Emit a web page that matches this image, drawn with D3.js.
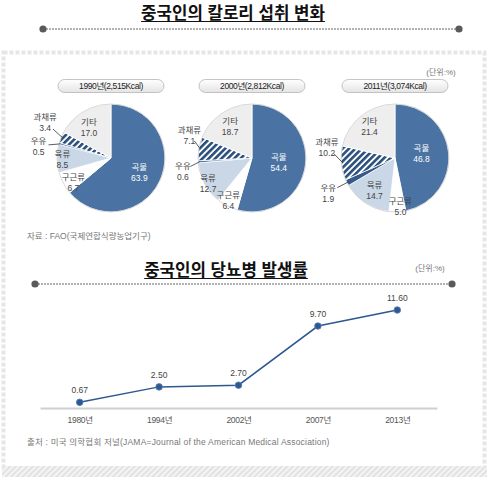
<!DOCTYPE html>
<html><head><meta charset="utf-8">
<script src="https://cdn.jsdelivr.net/npm/d3@7"></script>
<style>
body{margin:0;background:#fff;}
svg{display:block;}
text{font-family:"Liberation Sans","Noto Sans CJK KR",sans-serif;}
</style></head>
<body>
<svg id="c" width="489" height="479"></svg>
<script>
// ---------- DATA ----------
const pieCategories = ["곡물","구근류","육류","우유","과채류","기타"];
const pieYears = ["1990년(2,515Kcal)","2000년(2,812Kcal)","2011년(3,074Kcal)"];
const pie1990 = [63.9, 6.7, 8.5, 0.5, 3.4, 17.0];
const pie2000 = [54.4, 6.4, 12.7, 0.6, 7.1, 18.7];
const pie2011 = [46.8, 5.0, 14.7, 1.9, 10.2, 21.4];
const lineYears = ["1980년","1994년","2002년","2007년","2013년"];
const lineValues = [0.67, 2.50, 2.70, 9.70, 11.60];

// ---------- LAYOUT ----------
const W = 489, H = 479;
const pieCentersX = [111, 252, 395];
const pieCY = 158, R = 54;
const sliceFill = ["#4a73a3","#ffffff","#c9d7e7","#34598a","url(#hatch)","#eeeeee"];
const textFill = ["#ffffff","#444","#444","#444","#444","#444"];
// label placement: polar (radius factor, angle offset in degrees) per pie per category
const labelPolar = [
  [[0.58,0],[0.82,-4],[0.90,0],[1.36,-6],[1.39,6],[0.72,-4]],
  [[0.50,0],[0.89,2],[0.93,-1],[1.30,-6],[1.24,11],[0.73,0]],
  [[0.50,-6],[0.89,-4],[0.70,0],[1.39,0],[1.28,15],[0.76,0]]
];

const svg = d3.select("#c");
const defs = svg.append("defs");
const hatch = defs.append("pattern").attr("id","hatch").attr("patternUnits","userSpaceOnUse")
  .attr("width",4.5).attr("height",4.5).attr("patternTransform","rotate(45)");
hatch.append("rect").attr("width",4.5).attr("height",4.5).attr("fill","#ffffff");
hatch.append("rect").attr("width",2.6).attr("height",4.5).attr("fill","#2a4f7c");
const pillGrad = defs.append("linearGradient").attr("id","pill").attr("x1",0).attr("y1",0).attr("x2",0).attr("y2",1);
pillGrad.append("stop").attr("offset","0%").attr("stop-color","#ffffff");
pillGrad.append("stop").attr("offset","100%").attr("stop-color","#e4e4e4");
const diag = defs.append("pattern").attr("id","diag").attr("patternUnits","userSpaceOnUse")
  .attr("width",4).attr("height",4).attr("patternTransform","rotate(45)");
diag.append("rect").attr("width",4).attr("height",4).attr("fill","#f4f4f4");
diag.append("rect").attr("width",2).attr("height",4).attr("fill","#e2e2e2");

// ---------- PANEL BORDER ----------
const border = svg.append("g");
border.append("rect").attr("x",3.5).attr("y",52.5).attr("width",481).attr("height",417)
  .attr("fill","none").attr("stroke","#e6e6e6").attr("stroke-width",4).attr("stroke-dasharray","4,2");
border.append("rect").attr("x",2).attr("y",466).attr("width",485).attr("height",11).attr("fill","url(#diag)");

// ---------- TITLES ----------
function title(text, cx, baseline, lineY, x1, x2){
  const t = svg.append("text").attr("x",cx).attr("y",baseline).attr("text-anchor","middle")
    .attr("font-family","Noto Sans CJK KR").attr("font-weight","bold").attr("font-size",16.8)
    .attr("fill","#111").text(text);
  const bb = t.node().getBBox();
  svg.append("line").attr("x1",bb.x).attr("x2",bb.x+bb.width).attr("y1",baseline+2.5).attr("y2",baseline+2.5)
    .attr("stroke","#111").attr("stroke-width",1.2);
  svg.append("line").attr("x1",x1).attr("x2",x2).attr("y1",lineY).attr("y2",lineY)
    .attr("stroke","#666").attr("stroke-width",1).attr("stroke-dasharray","2,1");
  [x1,x2].forEach(x=>svg.append("circle").attr("cx",x).attr("cy",lineY).attr("r",3.6).attr("fill","#5a5a5a"));
}
title("중국인의 칼로리 섭취 변화", 233, 19, 29, 43, 459);
title("중국인의 당뇨병 발생률", 226, 276, 284, 35, 452);

svg.append("text").attr("x",441).attr("y",75).attr("text-anchor","middle").attr("font-size",8)
  .attr("fill","#777").text("(단위:%)");
svg.append("text").attr("x",430).attr("y",271).attr("text-anchor","middle").attr("font-size",8)
  .attr("fill","#777").text("(단위:%)");

// ---------- PIES ----------
const pieGen = d3.pie().sort(null).value(d=>d);
const arcGen = d3.arc().innerRadius(0).outerRadius(R);
[pie1990,pie2000,pie2011].forEach((vals,pi)=>{
  const cx = pieCentersX[pi];
  const pg = svg.append("g").attr("transform",`translate(${cx},86)`);
  pg.append("rect").attr("x",-53).attr("y",-6.5).attr("width",106).attr("height",13).attr("rx",6.5)
    .attr("fill","url(#pill)").attr("stroke","#b5b5b5").attr("stroke-width",0.8);
  pg.append("text").attr("y",3).attr("text-anchor","middle").attr("font-size",8.5)
    .attr("letter-spacing","-0.4").attr("fill","#222").text(pieYears[pi]);

  const g = svg.append("g").attr("transform",`translate(${cx},${pieCY})`);
  const arcs = pieGen(vals);
  g.selectAll("path.s").data(arcs).join("path").attr("class","s")
    .attr("d",arcGen).attr("fill",(d,i)=>sliceFill[i])
    .attr("stroke","#ffffff").attr("stroke-width",0.8);
  g.append("circle").attr("r",R).attr("fill","none").attr("stroke","#cfcfcf").attr("stroke-width",0.8);

  arcs.forEach((a,i)=>{
    const [k,dDeg] = labelPolar[pi][i];
    const mid = (a.startAngle+a.endAngle)/2;
    const ang = mid + dDeg*Math.PI/180;
    const lx = Math.sin(ang)*R*k, ly = -Math.cos(ang)*R*k;
    if(k>1){
      const tx = Math.sin(mid)*R*0.97, ty = -Math.cos(mid)*R*0.97;
      const sx = lx+(tx-lx)*0.45, sy = ly+(ty-ly)*0.45;
      g.append("line").attr("x1",sx).attr("y1",sy).attr("x2",tx).attr("y2",ty)
        .attr("stroke","#333").attr("stroke-width",0.8);
    }
    const t = g.append("text").attr("text-anchor","middle").attr("font-size",8.5).attr("fill",textFill[i]);
    t.append("tspan").attr("x",lx).attr("y",ly-1.5).text(pieCategories[i]);
    t.append("tspan").attr("x",lx).attr("y",ly+9.5).text(a.data.toFixed(1));
  });
});

svg.append("text").attr("x",27).attr("y",239).attr("font-size",8.5).attr("fill","#777")
  .text("자료 : FAO(국제연합식량농업기구)");

// ---------- LINE CHART ----------
const x = d3.scalePoint().domain(lineYears).range([40,437]).padding(0.5);
const y = d3.scaleLinear().domain([0,11.6]).range([408,310]);
const axis = svg.append("g").attr("transform","translate(0,408)")
  .call(d3.axisBottom(x).tickSize(0).tickPadding(9));
axis.select(".domain").attr("stroke","#cfcfcf").attr("stroke-width",2);
axis.selectAll("text").attr("font-size",8.5).attr("fill","#555").attr("letter-spacing","-0.3")
  .attr("font-family","Liberation Sans, Noto Sans CJK KR");

const pts = lineYears.map((yr,i)=>({yr, v:lineValues[i]}));
svg.append("path").datum(pts)
  .attr("d", d3.line().x(d=>x(d.yr)).y(d=>y(d.v)))
  .attr("fill","none").attr("stroke","#2e5890").attr("stroke-width",1.5);
svg.selectAll("circle.p").data(pts).join("circle").attr("class","p")
  .attr("cx",d=>x(d.yr)).attr("cy",d=>y(d.v)).attr("r",3.3)
  .attr("fill","#2e5890").attr("stroke","#5b82b5").attr("stroke-width",0.8);
svg.selectAll("text.v").data(pts).join("text").attr("class","v")
  .attr("x",d=>x(d.yr)).attr("y",d=>y(d.v)-9).attr("text-anchor","middle")
  .attr("font-size",8.5).attr("fill","#444").text(d=>d.v.toFixed(2));

svg.append("text").attr("x",27).attr("y",445).attr("font-size",8.5).attr("fill","#777")
  .attr("letter-spacing","0.2")
  .text("출처 : 미국 의학협회 저널(JAMA=Journal of the American Medical Association)");
</script>
</body></html>
